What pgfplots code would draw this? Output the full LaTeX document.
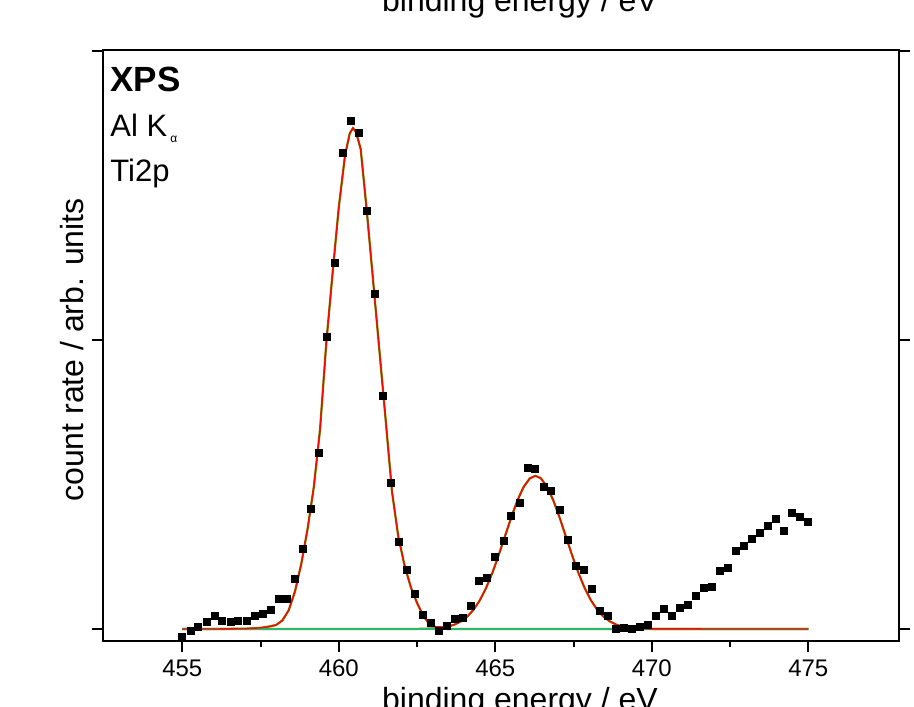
\documentclass[border=0pt]{standalone}
\usepackage{pgfplots}
\pgfplotsset{compat=1.18}
\usepackage{pgfplotstable}
\usepackage{fontspec}
\setmainfont{Liberation Sans}
\definecolor{fitred}{RGB}{240,10,0}
\definecolor{comp}{RGB}{128,128,0}
\definecolor{basegreen}{RGB}{40,185,110}

\pgfplotstableread{
x y
455.00 -0.027
455.26 -0.006
455.51 0.008
455.77 0.023
456.03 0.047
456.28 0.028
456.54 0.023
456.79 0.027
457.05 0.029
457.31 0.044
457.56 0.053
457.82 0.066
458.08 0.103
458.33 0.103
458.59 0.175
458.85 0.277
459.10 0.415
459.36 0.609
459.62 1.011
459.87 1.267
460.13 1.648
460.38 1.757
460.64 1.715
460.90 1.446
461.15 1.159
461.41 0.805
461.67 0.504
461.92 0.302
462.18 0.204
462.44 0.123
462.69 0.049
462.95 0.020
463.21 -0.006
463.46 0.011
463.72 0.035
463.97 0.040
464.23 0.079
464.49 0.166
464.74 0.178
465.00 0.249
465.26 0.306
465.51 0.392
465.77 0.438
466.03 0.557
466.28 0.553
466.54 0.491
466.79 0.478
467.05 0.413
467.31 0.310
467.56 0.219
467.82 0.205
468.08 0.138
468.33 0.063
468.59 0.046
468.85 0.002
469.10 0.004
469.36 -0.001
469.62 0.009
469.87 0.014
470.13 0.044
470.38 0.068
470.64 0.045
470.90 0.073
471.15 0.085
471.41 0.115
471.67 0.142
471.92 0.145
472.18 0.201
472.44 0.213
472.69 0.270
472.95 0.286
473.21 0.312
473.46 0.333
473.72 0.356
473.97 0.382
474.23 0.338
474.49 0.402
474.74 0.389
475.00 0.371
}\measured

\pgfplotstableread{
x y
455 0
456 0
457 0.001
457.5 0.004
457.8 0.009
458.0 0.014
458.2 0.030
458.4 0.065
458.6 0.130
458.8 0.225
459.0 0.345
459.2 0.490
459.4 0.690
459.6 0.990
459.8 1.230
460.0 1.460
460.2 1.640
460.35 1.715
460.45 1.733
460.55 1.720
460.7 1.660
460.9 1.440
461.1 1.200
461.3 0.960
461.5 0.720
461.7 0.475
461.9 0.320
462.1 0.220
462.3 0.145
462.5 0.090
462.7 0.045
462.9 0.016
463.1 0.006
463.3 0.002
463.5 0.000
475 0
}\compA

\pgfplotstableread{
x y
455 0
462.5 0.0003
463.1 0.0023
463.3 0.0047
463.5 0.0087
463.7 0.0154
463.9 0.0261
464.1 0.0424
464.3 0.066
464.5 0.0985
464.7 0.1407
464.9 0.1927
465.1 0.2529
465.3 0.3182
465.5 0.3836
465.7 0.4432
465.9 0.4909
466.1 0.521
466.28 0.530
466.45 0.522
466.65 0.4928
466.85 0.446
467.05 0.387
467.25 0.3215
467.45 0.2561
467.65 0.1955
467.85 0.143
468.05 0.1003
468.25 0.0674
468.45 0.0434
468.65 0.0268
468.85 0.0158
469.05 0.0090
469.3 0.0042
469.6 0.0015
470.0 0.0003
475 0
}\compB

\pgfplotstableread{
x y
455 0
456 0
457 0.001
457.5 0.004
457.8 0.009
458.0 0.014
458.2 0.030
458.4 0.065
458.6 0.130
458.8 0.225
459.0 0.345
459.2 0.490
459.4 0.690
459.6 0.990
459.8 1.230
460.0 1.460
460.2 1.640
460.35 1.715
460.45 1.733
460.55 1.720
460.7 1.660
460.9 1.440
461.1 1.200
461.3 0.960
461.5 0.720
461.7 0.475
461.9 0.320
462.1 0.220
462.3 0.145
462.5 0.090
462.7 0.046
462.9 0.017
463.1 0.008
463.3 0.007
463.5 0.009
463.7 0.0154
463.9 0.0261
464.1 0.0424
464.3 0.066
464.5 0.0985
464.7 0.1407
464.9 0.1927
465.1 0.2529
465.3 0.3182
465.5 0.3836
465.7 0.4432
465.9 0.4909
466.1 0.521
466.28 0.530
466.45 0.522
466.65 0.4928
466.85 0.446
467.05 0.387
467.25 0.3215
467.45 0.2561
467.65 0.1955
467.85 0.143
468.05 0.1003
468.25 0.0674
468.45 0.0434
468.65 0.0268
468.85 0.0158
469.05 0.0090
469.3 0.0042
469.6 0.0015
470.0 0.0003
475 0
}\envelope

\begin{document}
\begin{tikzpicture}
\begin{axis}[
  at={(0,0)}, anchor=south west,
  scale only axis, width=398pt, height=295.5pt,
  xmin=452.466, xmax=477.898, ymin=-0.0415, ymax=2.0035,
  axis line style={line width=1pt},
  every tick/.style={line width=1pt, black},
  tick align=outside,
  major tick length=5.5pt, minor tick length=3pt,
  xtick={455,460,465,470,475}, minor x tick num=1,
  xtick pos=left,
  ytick={0,1,2}, yticklabels={},
  /pgf/number format/assume math mode=true,
  /pgf/number format/1000 sep={},
  tick label style={font=\fontsize{12}{14}\selectfont},
  xticklabel style={anchor=base, yshift=-12pt},
  clip=false,
]
\addplot[comp, line width=1.1pt] table[x=x,y=y] {\compA};
\addplot[comp, line width=1.1pt] table[x=x,y=y] {\compB};
\addplot[basegreen, line width=1pt] coordinates {(455,0) (475,0)};
\addplot[fitred, line width=0.7pt] table[x=x,y=y] {\envelope};
\addplot[only marks, mark=square*, mark size=1.75pt, black, mark options={fill=black}] table[x=x,y=y] {\measured};
\end{axis}
\node[anchor=base west, inner sep=0, font=\fontsize{17.5}{20}\selectfont\bfseries] at (3.5pt,274.5pt) {XPS};
\node[anchor=base west, inner sep=0, font=\fontsize{15.5}{18}\selectfont] at (3.5pt,252pt) {Al K\hspace{1.5pt}\raisebox{-3pt}{\fontsize{6}{7}\selectfont α}};
\node[anchor=base west, inner sep=0, font=\fontsize{15.5}{18}\selectfont] at (3.5pt,229.5pt) {Ti2p};
\node[anchor=base, inner sep=0, font=\fontsize{16}{19}\selectfont] at (208.5pt,314.5pt) {binding energy / eV};
\node[anchor=base, inner sep=0, font=\fontsize{16}{19}\selectfont] at (208.5pt,-34.5pt) {binding energy / eV};
\node[anchor=base, inner sep=0, rotate=90, font=\fontsize{16}{19}\selectfont] at (-10pt,145.5pt) {count rate / arb. units};
\pgfresetboundingbox
\path[use as bounding box] (-51.5pt,-32.5pt) rectangle (405.5pt,320.5pt);
\end{tikzpicture}
\end{document}
